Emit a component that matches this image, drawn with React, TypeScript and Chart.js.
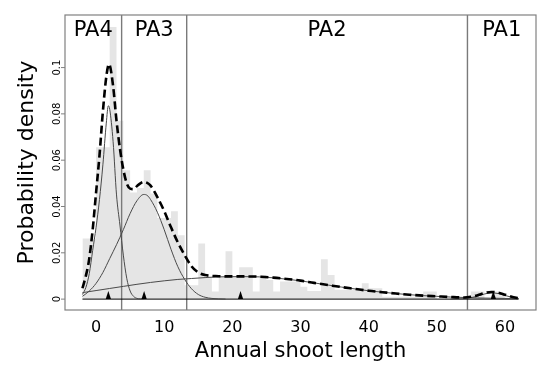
import React, { useEffect, useRef } from "react";
import { Chart, registerables } from "chart.js";

Chart.register(...registerables);

// ---------- data ----------
const binStarts = [
  -2, -1, 0, 1, 2, 3, 4, 5, 6, 7, 8, 9, 10, 11, 12, 13, 14, 15, 16, 17, 18, 19, 20, 21,
  22, 23, 24, 25, 26, 27, 28, 29, 30, 31, 32, 33, 34, 35, 36, 37, 38, 39, 40, 41, 42, 43,
  44, 45, 46, 47, 48, 49, 50, 51, 52, 53, 54, 55, 56, 57, 58, 59, 60, 61,
];
const binEnd = 62;
const binHeights = [
  0.0262, 0.0262, 0.0656, 0.0656, 0.1175, 0.077, 0.0556, 0.046, 0.048, 0.0556, 0.0456, 0.035,
  0.035, 0.038, 0.0276, 0.006, 0.006, 0.024, 0.0097, 0.0033, 0.0097, 0.0207, 0.0097, 0.0138,
  0.0138, 0.0033, 0.0104, 0.0083, 0.0033, 0.0076, 0.0076, 0.0076, 0.0053, 0.0035, 0.0035, 0.0172,
  0.0104, 0.004, 0.004, 0.004, 0.004, 0.0069, 0.0047, 0.0047, 0.001, 0.001, 0.001, 0.001,
  0.001, 0.001, 0.0033, 0.0033, 0, 0, 0, 0, 0, 0.0033, 0.0033, 0, 0.0033, 0.0017, 0, 0,
];

const totalX = [
  -2, -1.5, -1, -0.5, 0, 0.5, 1, 1.5, 1.9, 2.5, 3, 3.5, 4, 4.5, 5, 5.5, 6, 6.5, 7, 7.5, 8, 9,
  10, 11, 12, 13, 14, 15, 16, 18, 20, 22, 24, 26, 28, 30, 32, 34, 36, 38, 40, 42, 44, 46, 48,
  50, 52, 54, 55, 56, 57, 58, 59, 60, 61, 62,
];
const totalY = [
  0.0047, 0.01, 0.0175, 0.03, 0.046, 0.062, 0.081, 0.096, 0.1015, 0.092, 0.077, 0.065, 0.056,
  0.05, 0.0477, 0.0475, 0.0488, 0.05, 0.0506, 0.0502, 0.049, 0.044, 0.038, 0.031, 0.0245, 0.019,
  0.0142, 0.0115, 0.0104, 0.0099, 0.0098, 0.0098, 0.0097, 0.0093, 0.0087, 0.008, 0.007, 0.0061,
  0.0052, 0.0044, 0.0036, 0.003, 0.0024, 0.0019, 0.0015, 0.0012, 0.0009, 0.0007, 0.001, 0.0017,
  0.0026, 0.0031, 0.0028, 0.0019, 0.001, 0.0004,
];

const pa4X = [-2, -1.5, -1, -0.5, 0, 0.5, 1, 1.5, 1.8, 2, 2.5, 3, 3.5, 4, 4.5, 5, 5.5, 6, 6.5, 7];
const pa4Y = [
  0.002, 0.005, 0.011, 0.021, 0.031, 0.043, 0.058, 0.076, 0.0835, 0.082, 0.068, 0.045, 0.032,
  0.019, 0.009, 0.0035, 0.0012, 0.0003, 0.0001, 0,
];

const pa3X = [-2, -1, 0, 1, 2, 3, 4, 5, 6, 7, 7.5, 8, 9, 10, 11, 12, 13, 14, 15, 16, 17, 18, 19];
const pa3Y = [
  0.0012, 0.0035, 0.0068, 0.0115, 0.0175, 0.0235, 0.03, 0.037, 0.0425, 0.0452, 0.0448, 0.043,
  0.0375, 0.03, 0.0215, 0.014, 0.0085, 0.0045, 0.002, 0.0008, 0.0003, 0.0001, 0,
];

const pa2X = [
  -2, 0, 2, 4, 6, 8, 10, 12, 14, 16, 18, 20, 22, 24, 26, 28, 30, 32, 34, 36, 38, 40, 42, 44,
  46, 48, 50, 52, 54, 56, 58, 60, 62,
];
const pa2Y = [
  0.0028, 0.0037, 0.0046, 0.0055, 0.0064, 0.0072, 0.0079, 0.0085, 0.0089, 0.0093, 0.0096,
  0.0097, 0.0097, 0.0096, 0.0092, 0.0086, 0.0079, 0.007, 0.0061, 0.0052, 0.0044, 0.0036, 0.003,
  0.0024, 0.0019, 0.0015, 0.0012, 0.0009, 0.0007, 0.0005, 0.0004, 0.0003, 0.0002,
];

const pa1X = [52, 53, 54, 55, 56, 57, 58, 59, 60, 61, 62];
const pa1Y = [0, 0.0001, 0.0002, 0.0006, 0.0013, 0.0022, 0.0027, 0.0024, 0.0016, 0.0008, 0.0002];

const modes = [1.8, 7.05, 21.2, 58.3];
const boundaries = [3.75, 13.3, 54.5];
const regionLabels = ["PA4", "PA3", "PA2", "PA1"];

const xTicks = [0, 10, 20, 30, 40, 50, 60];
const yTicks = [0, 0.02, 0.04, 0.06, 0.08, 0.1];
const yTickLabels = ["0", "0.02", "0.04", "0.06", "0.08", "0.1"];

const xTitle = "Annual shoot length";
const yTitle = "Probability density";

const xMin = -4.56;
const xMax = 64.56;
const yMin = -0.0047;
const yMax = 0.1227;

// ---------- component ----------
const FONT = '"DejaVu Sans", sans-serif';

function pts(xs: number[], ys: number[]) {
  return xs.map((x, i) => ({ x, y: ys[i] }));
}

export default function App() {
  const ref = useRef<HTMLCanvasElement | null>(null);

  useEffect(() => {
    if (!ref.current) return;
    const histData = binStarts
      .map((x, i) => ({ x, y: binHeights[i] }))
      .concat([{ x: binEnd, y: binHeights[binHeights.length - 1] }]);

    const HIST_INDEX = 6;

    const decor = {
      id: "decor",
      afterDatasetDraw(chart: any, args: any) {
        if (args.index !== HIST_INDEX) return;
        const { ctx, chartArea } = chart;
        const xs = chart.scales.x;
        ctx.save();
        ctx.strokeStyle = "#7a7a7a";
        ctx.lineWidth = 1.4;
        boundaries.forEach((b) => {
          const px = xs.getPixelForValue(b);
          ctx.beginPath();
          ctx.moveTo(px, chartArea.top);
          ctx.lineTo(px, chartArea.bottom);
          ctx.stroke();
        });
        ctx.restore();
      },
      afterDatasetsDraw(chart: any) {
        const { ctx } = chart;
        const xs = chart.scales.x;
        const ys = chart.scales.y;
        const y0 = ys.getPixelForValue(0);
        ctx.save();
        ctx.fillStyle = "#000";
        modes.forEach((m) => {
          const px = xs.getPixelForValue(m);
          ctx.beginPath();
          ctx.moveTo(px - 2.6, y0);
          ctx.lineTo(px + 2.6, y0);
          ctx.lineTo(px, y0 - 8);
          ctx.closePath();
          ctx.fill();
        });
        ctx.restore();
      },
      afterDraw(chart: any) {
        const { ctx, chartArea } = chart;
        const xs = chart.scales.x;
        const ys = chart.scales.y;
        ctx.save();
        // box
        ctx.strokeStyle = "#808080";
        ctx.lineWidth = 1.2;
        ctx.strokeRect(
          chartArea.left,
          chartArea.top,
          chartArea.right - chartArea.left,
          chartArea.bottom - chartArea.top
        );
        // region labels
        ctx.fillStyle = "#000";
        ctx.font = `21px ${FONT}`;
        ctx.textAlign = "center";
        ctx.textBaseline = "alphabetic";
        const edges = [xs.min, ...boundaries, xs.max];
        regionLabels.forEach((lab, i) => {
          const c = (edges[i] + edges[i + 1]) / 2;
          ctx.fillText(lab, xs.getPixelForValue(c), chartArea.top + 21);
        });
        // x ticks
        ctx.font = `16px ${FONT}`;
        xTicks.forEach((t) => {
          ctx.fillText(String(t), xs.getPixelForValue(t), chartArea.bottom + 22);
        });
        // y ticks
        ctx.strokeStyle = "#808080";
        ctx.lineWidth = 1;
        ctx.font = `10px ${FONT}`;
        yTicks.forEach((t, i) => {
          const py = ys.getPixelForValue(t);
          ctx.beginPath();
          ctx.moveTo(chartArea.left - 4, py);
          ctx.lineTo(chartArea.left, py);
          ctx.stroke();
          ctx.save();
          ctx.translate(chartArea.left - 5, py);
          ctx.rotate(-Math.PI / 2);
          ctx.textAlign = "center";
          ctx.textBaseline = "alphabetic";
          ctx.fillText(yTickLabels[i], 0, 0);
          ctx.restore();
        });
        // axis titles
        ctx.font = `21px ${FONT}`;
        ctx.textAlign = "center";
        ctx.fillText(xTitle, (chartArea.left + chartArea.right) / 2, chartArea.bottom + 47);
        ctx.font = `22px ${FONT}`;
        ctx.save();
        ctx.translate(chartArea.left - 32, (chartArea.top + chartArea.bottom) / 2);
        ctx.rotate(-Math.PI / 2);
        ctx.fillText(yTitle, 0, 0);
        ctx.restore();
        ctx.restore();
      },
    };

    const lineBase = {
      type: "line" as const,
      pointRadius: 0,
      fill: false,
      cubicInterpolationMode: "monotone" as const,
    };

    const chart = new Chart(ref.current, {
      type: "line",
      data: {
        datasets: [
          {
            ...lineBase,
            label: "mixture",
            data: pts(totalX, totalY),
            borderColor: "#000",
            borderWidth: 2.6,
            borderDash: [8, 4],
          },
          {
            ...lineBase,
            label: "PA4",
            data: pts(pa4X, pa4Y),
            borderColor: "#4a4a4a",
            borderWidth: 1,
          },
          {
            ...lineBase,
            label: "PA3",
            data: pts(pa3X, pa3Y),
            borderColor: "#4a4a4a",
            borderWidth: 1,
          },
          {
            ...lineBase,
            label: "PA2",
            data: pts(pa2X, pa2Y),
            borderColor: "#4a4a4a",
            borderWidth: 1,
          },
          {
            ...lineBase,
            label: "PA1",
            data: pts(pa1X, pa1Y),
            borderColor: "#4a4a4a",
            borderWidth: 1,
          },
          {
            type: "line",
            label: "baseline",
            data: [
              { x: binStarts[0], y: 0 },
              { x: binEnd, y: 0 },
            ],
            borderColor: "#000",
            borderWidth: 1,
            pointRadius: 0,
            fill: false,
          },
          {
            type: "line",
            label: "histogram",
            data: histData,
            stepped: "before",
            borderWidth: 0,
            borderColor: "rgba(0,0,0,0)",
            backgroundColor: "#e5e5e5",
            pointRadius: 0,
            fill: "origin",
          },
        ],
      },
      options: {
        responsive: false,
        animation: false,
        events: [],
        layout: { padding: { left: 65, top: 15, right: 14, bottom: 61 } },
        plugins: { legend: { display: false }, tooltip: { enabled: false }, title: { display: false } },
        scales: {
          x: { type: "linear", min: xMin, max: xMax, display: false },
          y: { type: "linear", min: yMin, max: yMax, display: false },
        },
      },
      plugins: [decor],
    });
    return () => chart.destroy();
  }, []);

  return (
    <div style={{ position: "fixed", left: 0, top: 0, width: 550, height: 371, background: "#fff" }}>
      <canvas ref={ref} width={550} height={371} style={{ display: "block" }} />
    </div>
  );
}
